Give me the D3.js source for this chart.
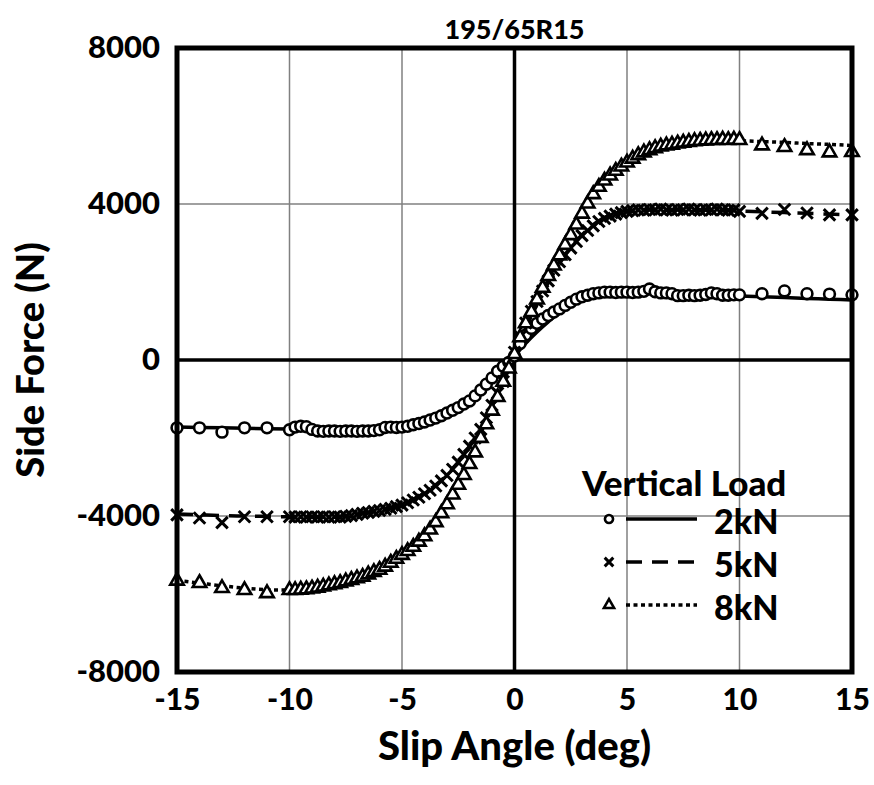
<!DOCTYPE html>
<html>
<head>
<meta charset="utf-8">
<script src="https://cdn.jsdelivr.net/npm/d3@7"></script>
<style>
  body { margin: 0; background: #fff; }
  text { font-family: Lato, "Open Sans", sans-serif; font-weight: 900; fill: #000; }
</style>
</head>
<body>
<div class="chart-area"></div>
<script>
// measured points (slip angle in deg)
var markerAngles = [-15, -14, -13, -12, -11,
    -10, -9.75, -9.5, -9.25, -9, -8.75, -8.5, -8.25, -8, -7.75, -7.5, -7.25, -7, -6.75, -6.5, -6.25,
    -6, -5.75, -5.5, -5.25, -5, -4.75, -4.5, -4.25, -4, -3.75, -3.5, -3.25, -3, -2.75, -2.5, -2.25,
    -2, -1.75, -1.5, -1.25, -1, -0.75, -0.5, -0.25, 0, 0.25, 0.5, 0.75, 1, 1.25, 1.5, 1.75,
    2, 2.25, 2.5, 2.75, 3, 3.25, 3.5, 3.75, 4, 4.25, 4.5, 4.75, 5, 5.25, 5.5, 5.75,
    6, 6.25, 6.5, 6.75, 7, 7.25, 7.5, 7.75, 8, 8.25, 8.5, 8.75, 9, 9.25, 9.5, 9.75, 10,
    11, 12, 13, 14, 15];

var points2kN = [-1740, -1740, -1850, -1740, -1740,
    -1790, -1720, -1700, -1710, -1780, -1820, -1830, -1820, -1820, -1830, -1820, -1820, -1830, -1820, -1820, -1810,
    -1790, -1730, -1720, -1730, -1720, -1700, -1660, -1630, -1590, -1540, -1490, -1430, -1360, -1290, -1220, -1130,
    -1050, -920, -770, -620, -460, -290, -160, -60, 100, 420, 640, 810, 940, 1050, 1140, 1230,
    1310, 1400, 1480, 1560, 1620, 1660, 1700, 1720, 1740, 1740, 1730, 1740, 1740, 1730, 1740, 1760,
    1820, 1750, 1720, 1720, 1700, 1650, 1650, 1660, 1650, 1660, 1680, 1720, 1700, 1660, 1660, 1670, 1670,
    1700, 1770, 1700, 1690, 1670];

var points5kN = [-3970, -4050, -4170, -4020, -4020,
    -4020, -4030, -4020, -4030, -4020, -4030, -4020, -4030, -4020, -4030, -4010, -3990, -3960, -3930, -3910, -3880,
    -3860, -3830, -3800, -3760, -3720, -3660, -3590, -3520, -3430, -3340, -3230, -3100, -2960, -2800, -2620, -2420,
    -2210, -2000, -1780, -1480, -1160, -850, -550, -200, 200, 600, 950, 1250, 1500, 1770, 2030, 2300,
    2520, 2700, 2870, 3040, 3190, 3320, 3440, 3550, 3630, 3690, 3740, 3780, 3810, 3830, 3850, 3840,
    3860, 3850, 3870, 3850, 3840, 3860, 3850, 3870, 3850, 3840, 3860, 3850, 3870, 3850, 3840, 3850, 3810,
    3760, 3860, 3770, 3720, 3720];

var points8kN = [-5660, -5720, -5850, -5900, -5980,
    -5900, -5900, -5890, -5880, -5860, -5840, -5810, -5780, -5750, -5720, -5680, -5640, -5600, -5560, -5500, -5440,
    -5380, -5300, -5200, -5100, -5000, -4900, -4790, -4660, -4520, -4350, -4160, -3930, -3700, -3450, -3200, -2950,
    -2670, -2370, -2000, -1650, -1300, -950, -560, -220, 150, 580, 940, 1230, 1550, 1850, 2150, 2420,
    2680, 2950, 3200, 3470, 3750, 4010, 4250, 4440, 4600, 4730, 4850, 4960, 5060, 5160, 5250, 5320,
    5380, 5430, 5470, 5500, 5520, 5550, 5570, 5590, 5610, 5620, 5630, 5640, 5640, 5650, 5640, 5650, 5640,
    5500, 5460, 5380, 5320, 5330];

// fitted curves
var lineAngles = [-15, -14, -13, -12, -11, -10, -9, -8, -7, -6,
    -5, -4.5, -4, -3.5, -3, -2.5, -2, -1.5, -1, -0.5, 0, 0.5, 1, 1.5, 2, 2.5, 3, 3.5, 4, 4.5, 5,
    6, 7, 8, 9, 10, 11, 12, 13, 14, 15];

var line2kN = [-1720, -1730, -1740, -1750, -1760, -1770, -1780, -1790, -1790, -1770,
    -1710, -1660, -1590, -1490, -1370, -1220, -1040, -820, -560, -260, 100, 430, 720, 980, 1200, 1400, 1560, 1670, 1720, 1740, 1740,
    1720, 1700, 1680, 1660, 1640, 1620, 1600, 1580, 1560, 1540];

var line5kN = [-3950, -3970, -3990, -4000, -4010, -4020, -4020, -4010, -3960, -3860,
    -3690, -3570, -3410, -3200, -2940, -2620, -2220, -1750, -1180, -550, 120, 800, 1420, 1980, 2470, 2880, 3210, 3470, 3650, 3770, 3830,
    3860, 3860, 3850, 3840, 3820, 3800, 3780, 3760, 3740, 3720];

var line8kN = [-5650, -5720, -5790, -5850, -5890, -5900, -5870, -5780, -5620, -5380,
    -5000, -4750, -4430, -4050, -3600, -3080, -2500, -1870, -1230, -560, 120, 830, 1520, 2190, 2820, 3390, 3880, 4290, 4620, 4880, 5080,
    5350, 5510, 5590, 5620, 5620, 5600, 5580, 5550, 5530, 5500];

var loadLabels = ["2kN", "5kN", "8kN"];
var xTicks = [-15, -10, -5, 0, 5, 10, 15];
var yTicks = [-8000, -4000, 0, 4000, 8000];

var series = [
    {name: loadLabels[0], points: points2kN, line: line2kN, marker: "circle", dash: null},
    {name: loadLabels[1], points: points5kN, line: line5kN, marker: "x", dash: "16,10"},
    {name: loadLabels[2], points: points8kN, line: line8kN, marker: "triangle", dash: "4,3.5"}
];

var svg = d3.select(".chart-area").append("svg")
    .attr("width", 874)
    .attr("height", 785);

var x = d3.scaleLinear().domain([-15, 15]).range([177, 852]);
var y = d3.scaleLinear().domain([-8000, 8000]).range([672, 48]);

// grid lines
svg.selectAll("line.vgrid")
    .data([-10, -5, 5, 10])
    .enter()
    .append("line")
    .attr("x1", function(d) { return x(d); })
    .attr("x2", function(d) { return x(d); })
    .attr("y1", y(8000))
    .attr("y2", y(-8000))
    .attr("stroke", "#808080")
    .attr("stroke-width", 1.5);

svg.selectAll("line.hgrid")
    .data([-4000, 4000])
    .enter()
    .append("line")
    .attr("x1", x(-15))
    .attr("x2", x(15))
    .attr("y1", function(d) { return y(d); })
    .attr("y2", function(d) { return y(d); })
    .attr("stroke", "#808080")
    .attr("stroke-width", 1.5);

// zero lines
svg.append("line")
    .attr("x1", x(0)).attr("x2", x(0))
    .attr("y1", y(8000)).attr("y2", y(-8000))
    .attr("stroke", "#000").attr("stroke-width", 3.5);
svg.append("line")
    .attr("x1", x(-15)).attr("x2", x(15))
    .attr("y1", y(0)).attr("y2", y(0))
    .attr("stroke", "#000").attr("stroke-width", 3.5);

// curves
var line = d3.line()
    .x(function(d) { return x(d[0]); })
    .y(function(d) { return y(d[1]); })
    .curve(d3.curveMonotoneX);

series.forEach(function(s) {
    svg.append("path")
        .datum(lineAngles.map(function(a, i) { return [a, s.line[i]]; }))
        .attr("d", line)
        .attr("fill", "none")
        .attr("stroke", "#000")
        .attr("stroke-width", 3.5)
        .attr("stroke-dasharray", s.dash);
});

// marker drawing
function drawMarker(g, type, size) {
    if (type === "circle") {
        g.append("circle").attr("r", size * 0.45)
            .attr("fill", "#fff").attr("stroke", "#000").attr("stroke-width", 2.6);
    } else if (type === "x") {
        var h = size * 0.48;
        g.append("path").attr("d", "M" + (-h) + "," + (-h) + "L" + h + "," + h + "M" + (-h) + "," + h + "L" + h + "," + (-h))
            .attr("stroke", "#000").attr("stroke-width", 3).attr("fill", "none");
    } else {
        g.append("path").attr("d", d3.symbol().type(d3.symbolTriangle).size(size * size * 0.55)())
            .attr("fill", "#fff").attr("stroke", "#000").attr("stroke-width", 2.6);
    }
}

series.forEach(function(s) {
    var pts = markerAngles.map(function(a, i) { return [a, s.points[i]]; });
    svg.append("g").selectAll("g")
        .data(pts)
        .enter()
        .append("g")
        .attr("transform", function(d) { return "translate(" + x(d[0]) + "," + y(d[1]) + ")"; })
        .each(function() { drawMarker(d3.select(this), s.marker, 12); });
});

// frame
svg.append("rect")
    .attr("x", x(-15)).attr("y", y(8000))
    .attr("width", x(15) - x(-15)).attr("height", y(-8000) - y(8000))
    .attr("fill", "none").attr("stroke", "#000").attr("stroke-width", 5);

// axes labels
var xAxis = svg.append("g")
    .attr("transform", "translate(0," + y(-8000) + ")")
    .call(d3.axisBottom(x).tickValues(xTicks).tickSize(0).tickPadding(17)
        .tickFormat(function(d) { return String(d); }));
xAxis.select(".domain").remove();
xAxis.selectAll("text").style("font-size", "30px").attr("font-family", null);

var yAxis = svg.append("g")
    .attr("transform", "translate(" + x(-15) + ",0)")
    .call(d3.axisLeft(y).tickValues(yTicks).tickSize(0).tickPadding(17)
        .tickFormat(function(d) { return String(d); }));
yAxis.select(".domain").remove();
yAxis.selectAll("text").style("font-size", "31px").attr("font-family", null);

svg.append("text")
    .attr("x", x(0)).attr("y", 39)
    .attr("text-anchor", "middle")
    .style("font-size", "27px")
    .text("195/65R15");

svg.append("text")
    .attr("x", x(0)).attr("y", 760)
    .attr("text-anchor", "middle")
    .style("font-size", "40px")
    .text("Slip Angle (deg)");

svg.append("text")
    .attr("transform", "translate(44,360) rotate(-90)")
    .attr("text-anchor", "middle")
    .style("font-size", "38px")
    .text("Side Force (N)");

// legend
var legend = svg.append("g");
legend.append("text")
    .attr("x", 582).attr("y", 496)
    .style("font-size", "35px")
    .text("Vertical Load");

series.forEach(function(s, i) {
    var ly = 519 + i * 43;
    var g = legend.append("g").attr("transform", "translate(609," + ly + ")");
    drawMarker(g, s.marker, 9);
    legend.append("line")
        .attr("x1", 626).attr("x2", 697)
        .attr("y1", ly).attr("y2", ly)
        .attr("stroke", "#000").attr("stroke-width", 3.5)
        .attr("stroke-dasharray", s.dash);
    legend.append("text")
        .attr("x", 714).attr("y", ly + 15)
        .style("font-size", "34px")
        .text(s.name);
});
</script>
</body>
</html>
